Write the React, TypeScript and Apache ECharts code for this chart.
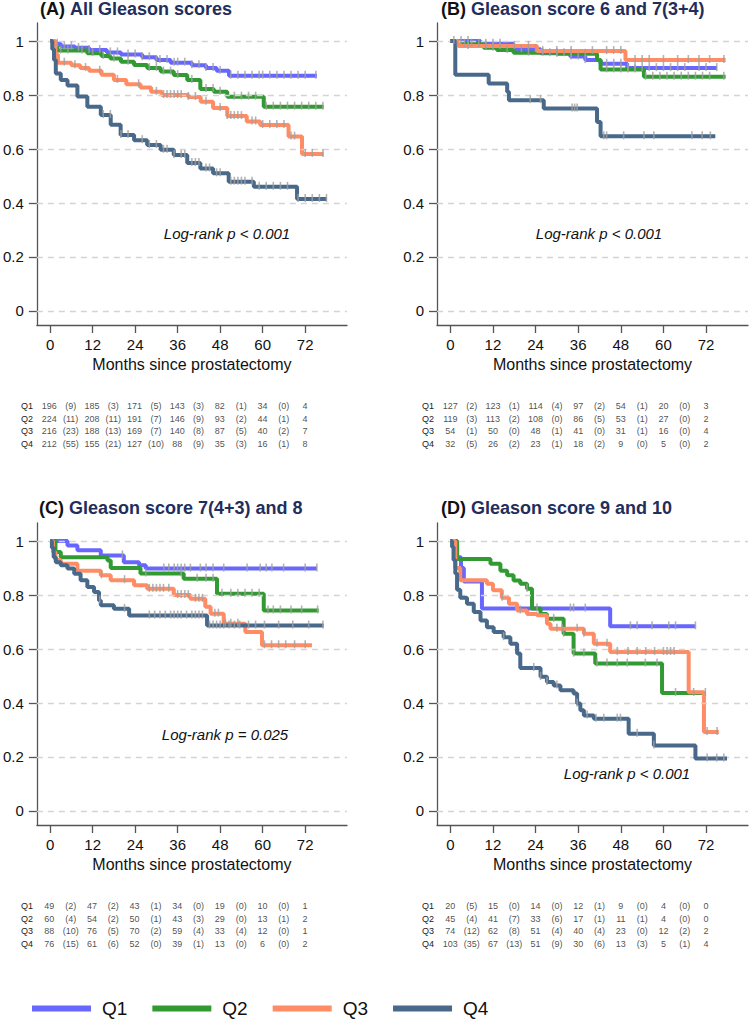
import React, { useEffect, useRef } from "react";
import * as echarts from "echarts";

// ---------------- data ----------------
const quartiles = ["Q1", "Q2", "Q3", "Q4"];
const colors = ["#6767ff", "#329a32", "#ff8c64", "#48698a"];
const panelTitles = [
  ["(A)", "All Gleason scores"],
  ["(B)", "Gleason score 6 and 7(3+4)"],
  ["(C)", "Gleason score 7(4+3) and 8"],
  ["(D)", "Gleason score 9 and 10"],
];
const logRankTexts = ["Log-rank p < 0.001", "Log-rank p < 0.001", "Log-rank p = 0.025", "Log-rank p < 0.001"];
const xTicks = [0, 12, 24, 36, 48, 60, 72];
const yTicks = [0, 0.2, 0.4, 0.6, 0.8, 1];
const eventTimes = [6, 18, 30, 42, 54, 66];
const xAxisTitle = "Months since prostatectomy";

// Kaplan-Meier step curves [month, survival]
const curveA_Q1 = [[0, 1], [1, 0.99], [3, 0.98], [7, 0.975], [11, 0.967], [16, 0.958], [20, 0.95], [26, 0.94], [30, 0.93], [34, 0.92], [40, 0.91], [44, 0.9], [47, 0.89], [50.5, 0.872], [75.3, 0.872]];
const curveA_Q2 = [[0, 1], [1, 0.98], [2, 0.965], [10.5, 0.955], [14.5, 0.945], [17, 0.935], [20, 0.923], [23.7, 0.911], [27.4, 0.9], [31.2, 0.887], [34.9, 0.874], [38.7, 0.856], [42.4, 0.822], [46.2, 0.812], [50, 0.794], [60.3, 0.757], [77.2, 0.757]];
const curveA_Q3 = [[0, 1], [1.5, 0.95], [2.2, 0.92], [6, 0.91], [8.5, 0.9], [11, 0.89], [14.5, 0.875], [18, 0.856], [21.5, 0.84], [25.5, 0.828], [28.5, 0.812], [31.5, 0.8], [39, 0.793], [42.5, 0.775], [46, 0.752], [50, 0.722], [55.5, 0.702], [59.3, 0.689], [67.3, 0.646], [71.1, 0.582], [77.2, 0.582]];
const curveA_Q4 = [[0, 1], [0.6, 0.97], [1.1, 0.93], [1.6, 0.88], [3, 0.856], [4.9, 0.835], [7.7, 0.795], [10.5, 0.757], [14.3, 0.726], [17.1, 0.69], [19.9, 0.652], [23.7, 0.633], [27.4, 0.615], [31.2, 0.597], [34.9, 0.578], [38.7, 0.548], [42.4, 0.528], [46, 0.51], [50.4, 0.479], [57.5, 0.46], [69.7, 0.415], [78.1, 0.415]];

const curveB_Q1 = [[0, 1], [8.5, 0.99], [17.8, 0.97], [25.4, 0.955], [33.8, 0.943], [38, 0.93], [42.3, 0.916], [49.8, 0.9], [75.1, 0.9]];
const curveB_Q2 = [[0, 1], [1.9, 0.99], [9.4, 0.975], [13.1, 0.967], [17.8, 0.957], [30, 0.953], [41.3, 0.93], [42.3, 0.895], [54.5, 0.868], [77.5, 0.868]];
const curveB_Q3 = [[0, 1], [2.3, 0.982], [24.4, 0.963], [49.3, 0.93], [77.5, 0.93]];
const curveB_Q4 = [[0, 1], [1.4, 0.875], [10.8, 0.843], [16, 0.812], [16.5, 0.781], [26.3, 0.75], [41.3, 0.7], [42.3, 0.647], [74.6, 0.647]];

const curveC_Q1 = [[0, 1], [4.9, 0.984], [7.7, 0.966], [14.3, 0.947], [20.8, 0.922], [25.1, 0.91], [27, 0.898], [75.3, 0.898]];
const curveC_Q2 = [[0, 1], [1.5, 0.96], [3, 0.94], [16.2, 0.928], [17.1, 0.9], [25.5, 0.88], [37.7, 0.86], [47.1, 0.805], [60.3, 0.743], [75.8, 0.743]];
const curveC_Q3 = [[0, 1], [0.8, 0.96], [1.5, 0.93], [3, 0.916], [7.7, 0.89], [14.3, 0.873], [17.1, 0.855], [23.7, 0.836], [27.4, 0.823], [34.9, 0.8], [39.6, 0.786], [43.8, 0.757], [45.3, 0.731], [49, 0.694], [55.1, 0.663], [59.8, 0.614], [73.9, 0.614]];
const curveC_Q4 = [[0, 1], [0.5, 0.975], [1, 0.94], [1.6, 0.922], [3, 0.91], [4.9, 0.898], [6.8, 0.879], [8.6, 0.855], [10.5, 0.83], [12.4, 0.811], [13.8, 0.78], [14.3, 0.762], [18, 0.749], [22.3, 0.724], [44.3, 0.687], [77.2, 0.687]];

const curveD_Q1 = [[0, 1], [1.9, 0.94], [3, 0.9], [3.8, 0.85], [8.9, 0.75], [45, 0.684], [69, 0.684]];
const curveD_Q2 = [[0, 1], [1.9, 0.934], [11.3, 0.916], [14.1, 0.89], [16, 0.873], [17.8, 0.854], [19.7, 0.842], [21.6, 0.823], [23, 0.75], [25.4, 0.73], [27.2, 0.712], [31.9, 0.657], [34.7, 0.583], [40.8, 0.546], [59.6, 0.437], [71.8, 0.437]];
const curveD_Q3 = [[0, 1], [1.4, 0.9], [2.8, 0.855], [10.3, 0.842], [12, 0.818], [14.5, 0.79], [16.5, 0.768], [18.8, 0.743], [21.6, 0.73], [24.4, 0.725], [27.2, 0.694], [28.2, 0.675], [37.6, 0.657], [40.4, 0.62], [45, 0.589], [67.1, 0.44], [71.4, 0.293], [75.6, 0.293]];
const curveD_Q4 = [[0, 1], [0.5, 0.978], [0.9, 0.93], [1.4, 0.88], [1.9, 0.82], [2.8, 0.79], [4.7, 0.768], [6.6, 0.737], [8.5, 0.706], [10.3, 0.681], [12.2, 0.663], [15, 0.644], [16.9, 0.62], [18.8, 0.583], [19.7, 0.53], [25.4, 0.497], [27.2, 0.478], [29.1, 0.465], [31, 0.447], [34.7, 0.435], [35.7, 0.398], [36.6, 0.373], [37.6, 0.354], [40.4, 0.342], [50.2, 0.286], [57.3, 0.243], [69, 0.194], [77.9, 0.194]];

// censoring times (months)
const censA_Q1 = [2, 4, 6, 8, 11, 14, 17, 19, 22, 24, 26, 28, 30, 31, 33, 35, 36, 38, 40, 42, 44, 46, 48, 51, 53, 55, 57, 59, 60, 62, 64, 66, 68, 70, 72, 75];
const censA_Q2 = [3, 5, 9, 12, 15, 18, 22, 28, 30, 32, 34, 36, 40, 44, 46, 48, 52, 54, 56, 58, 61, 63, 65, 67, 69, 71, 73, 75, 77];
const censA_Q3 = [4, 7, 10, 14, 19, 25, 30, 32, 33, 34, 35, 36, 37, 39, 41, 44, 48, 50, 51, 52, 53, 54, 57, 58, 60, 62, 64, 66, 68, 69, 72, 74, 77];
const censA_Q4 = [15, 17, 20, 22, 26, 28, 30, 32, 33, 35, 37, 38, 40, 41, 42, 44, 45, 47, 48, 51, 52, 53, 54, 55, 57, 59, 61, 63, 65, 67, 70, 72, 74, 76, 78];
const censB_Q1 = [1, 3, 5, 10, 12, 14, 20, 24, 28, 30, 32, 34, 36, 38, 44, 46, 48, 50, 52, 54, 56, 58, 60, 62, 64, 66, 70, 72, 75];
const censB_Q2 = [2, 4, 6, 8, 12, 16, 22, 26, 30, 34, 38, 44, 46, 48, 50, 52, 55, 57, 59, 61, 63, 65, 67, 69, 71, 73, 77];
const censB_Q3 = [5, 10, 14, 18, 22, 26, 30, 34, 40, 44, 46, 48, 52, 54, 56, 60, 64, 67, 70, 73, 77];
const censB_Q4 = [22.5, 25.4, 34.3, 35, 35.7, 43.2, 44, 48.8, 54.5, 57.3, 68, 70.9, 73.2];
const censC_Q1 = [20.4, 32.1, 33.5, 35, 36, 37, 38, 39.6, 42.4, 44, 46, 49, 55.6, 59.3, 61, 62.6, 65.9, 72, 75.3];
const censC_Q2 = [27, 37, 41.5, 44, 46, 48.5, 51, 53, 55, 57, 59, 61.5, 63, 65, 68, 71, 75.5];
const censC_Q3 = [14.5, 21, 28, 29, 30, 31, 32, 33.5, 36, 37, 38, 39, 41, 42, 43, 46.5, 47.5, 49.5, 51, 53, 60.5, 62.5, 64.5, 66.5, 69, 72];
const censC_Q4 = [14, 21, 28, 29.5, 31, 32.5, 34, 35, 36, 37, 38.5, 40, 41, 42, 43, 45, 46, 47, 48, 49, 50.5, 52, 53.5, 56, 58, 60.5, 64.5, 68.5, 73, 77];
const censD_Q1 = [33.8, 34.7, 38, 50.7, 52.6, 56.8, 61.5, 63.4, 69];
const censD_Q2 = [21.6, 24.4, 29.1, 31.9, 34.7, 37.6, 41.3, 44.1, 47, 49.8, 54.9, 58.2, 63.4, 68.5, 71.8];
const censD_Q3 = [14.6, 19.7, 30, 31.5, 35.7, 37.6, 41.3, 44.1, 47, 50, 52.6, 55, 57.5, 60, 61, 62, 63, 72.3, 75.1];
const censD_Q4 = [15, 23.5, 25.4, 27.2, 30, 35.7, 38.5, 41, 43.2, 47, 47.9, 52.6, 57.3, 72.3, 75, 77];

// numbers at risk (at 0,12,...,72) and events (in parentheses)
const riskA = [[196, 185, 171, 143, 82, 34, 4], [224, 208, 191, 146, 93, 44, 4], [216, 188, 169, 140, 87, 40, 7], [212, 155, 127, 88, 35, 16, 8]];
const eventsA = [[9, 3, 5, 3, 1, 0], [11, 11, 7, 9, 2, 1], [23, 13, 7, 8, 5, 2], [55, 21, 10, 9, 3, 1]];
const riskB = [[127, 123, 114, 97, 54, 20, 3], [119, 113, 108, 86, 53, 27, 2], [54, 50, 48, 41, 31, 16, 4], [32, 26, 23, 18, 9, 5, 2]];
const eventsB = [[2, 1, 4, 2, 1, 0], [3, 2, 0, 5, 1, 0], [1, 0, 1, 0, 1, 0], [5, 2, 1, 2, 0, 0]];
const riskC = [[49, 47, 43, 34, 19, 10, 1], [60, 54, 50, 43, 29, 13, 2], [88, 76, 70, 59, 33, 12, 1], [76, 61, 52, 39, 13, 6, 2]];
const eventsC = [[2, 2, 1, 0, 0, 0], [4, 2, 1, 3, 0, 1], [10, 5, 2, 4, 4, 0], [15, 6, 0, 1, 0, 0]];
const riskD = [[20, 15, 14, 12, 9, 4, 0], [45, 41, 33, 17, 11, 4, 0], [74, 62, 51, 40, 23, 12, 2], [103, 67, 51, 30, 13, 5, 4]];
const eventsD = [[5, 0, 0, 1, 0, 0], [4, 7, 6, 1, 1, 0], [12, 8, 4, 4, 0, 2], [35, 13, 9, 6, 3, 1]];

// ---------------- assembly ----------------
const panelCurves = [
  [curveA_Q1, curveA_Q2, curveA_Q3, curveA_Q4],
  [curveB_Q1, curveB_Q2, curveB_Q3, curveB_Q4],
  [curveC_Q1, curveC_Q2, curveC_Q3, curveC_Q4],
  [curveD_Q1, curveD_Q2, curveD_Q3, curveD_Q4],
];
const panelCensors = [
  [censA_Q1, censA_Q2, censA_Q3, censA_Q4],
  [censB_Q1, censB_Q2, censB_Q3, censB_Q4],
  [censC_Q1, censC_Q2, censC_Q3, censC_Q4],
  [censD_Q1, censD_Q2, censD_Q3, censD_Q4],
];
const panelRisk = [riskA, riskB, riskC, riskD];
const panelEvents = [eventsA, eventsB, eventsC, eventsD];

const FONT = '"Liberation Sans", Arial, Helvetica, sans-serif';

function survAt(curve: number[][], t: number) {
  let v = curve[0][1];
  for (const p of curve) {
    if (p[0] <= t) v = p[1];
    else break;
  }
  return v;
}

function buildOption() {
  const PL = [36, 437, 36, 437];
  const PT = [23, 23, 523, 523];
  const TT = [400, 400, 900, 900];
  const W = 311, H = 302;
  const XMIN = -3.75, XMAX = 83.8, YMIN = -0.052, YMAX = 1.067;
  const axisColor = "#555";
  const grid: any[] = [], xAxis: any[] = [], yAxis: any[] = [], series: any[] = [], title: any[] = [], graphic: any[] = [];
  const logPos = [[227, 233], [599, 233], [225, 734], [627, 773]];
  const titleTop = [0, 0, 499, 499];
  const titleLeft = [40, 441, 39, 441];

  for (let p = 0; p < 4; p++) {
    const gi = 2 * p;
    grid.push({ left: PL[p], top: PT[p], width: W, height: H });
    xAxis.push({
      type: "value", gridIndex: gi, min: XMIN, max: XMAX,
      axisLine: { show: true, onZero: false, lineStyle: { color: axisColor, width: 1.3 } },
      axisTick: { show: true, length: 8, customValues: xTicks, lineStyle: { color: axisColor, width: 1.3 } },
      axisLabel: { customValues: xTicks, fontSize: 15, color: "#111", margin: 12, fontFamily: FONT },
      splitLine: { show: false },
      name: xAxisTitle, nameLocation: "middle", nameGap: 31,
      nameTextStyle: { fontSize: 16, color: "#111", fontFamily: FONT },
    });
    yAxis.push({
      type: "value", gridIndex: gi, min: YMIN, max: YMAX,
      axisLine: { show: true, onZero: false, lineStyle: { color: axisColor, width: 1.3 } },
      axisTick: { show: true, length: 8, customValues: yTicks, lineStyle: { color: axisColor, width: 1.3 } },
      axisLabel: { customValues: yTicks, fontSize: 15, color: "#111", margin: 13, fontFamily: FONT, formatter: (v: number) => String(Math.round(v * 10) / 10) },
      splitLine: { show: false },
    });
    // table grid
    grid.push({ left: PL[p], top: TT[p], width: W, height: 50 });
    xAxis.push({ type: "value", gridIndex: gi + 1, min: XMIN, max: XMAX, show: false });
    yAxis.push({
      type: "category", gridIndex: gi + 1, data: quartiles, inverse: true,
      axisLine: { show: false }, axisTick: { show: false }, splitLine: { show: false },
      axisLabel: { fontSize: 9, color: "#222", margin: 3, fontFamily: FONT },
    });

    // gridlines
    series.push({
      type: "line", name: "grid" + p, xAxisIndex: gi, yAxisIndex: gi, data: [], z: 0, silent: true,
      markLine: {
        silent: true, symbol: ["none", "none"], label: { show: false },
        lineStyle: { type: [6, 5], color: "#d4d4d4", width: 1.3 },
        data: yTicks.map((v) => ({ yAxis: v })),
      },
    });

    for (let q = 0; q < 4; q++) {
      const curve = panelCurves[p][q];
      series.push({
        type: "line", name: quartiles[q], xAxisIndex: gi, yAxisIndex: gi,
        data: curve, step: "end", symbol: "none", showSymbol: false, silent: true,
        lineStyle: { width: 4, color: colors[q] }, itemStyle: { color: colors[q] }, z: 2 + q,
      });
      series.push({
        type: "scatter", name: "cens" + p + q, xAxisIndex: gi, yAxisIndex: gi, silent: true,
        data: panelCensors[p][q].map((t) => [t, survAt(curve, t)]),
        symbol: "rect", symbolSize: [1.6, 8], symbolOffset: [0, -1],
        itemStyle: { color: "#a0a0a0" }, z: 8,
      });
      const tbl: any[] = [];
      xTicks.forEach((t, i) => tbl.push([t, q, String(panelRisk[p][q][i])]));
      eventTimes.forEach((t, i) => tbl.push([t, q, "(" + panelEvents[p][q][i] + ")"]));
      series.push({
        type: "scatter", name: "tbl" + p + q, xAxisIndex: gi + 1, yAxisIndex: gi + 1, silent: true,
        data: tbl, symbolSize: 1, itemStyle: { color: "rgba(0,0,0,0)" },
        label: { show: true, position: "inside", formatter: (d: any) => d.data[2], fontSize: 9, color: "#222", fontFamily: FONT },
      });
    }

    title.push({
      left: titleLeft[p], top: titleTop[p], padding: 0,
      text: "{a|" + panelTitles[p][0] + "} {b|" + panelTitles[p][1] + "}",
      textStyle: {
        rich: {
          a: { fontSize: 18, fontWeight: "bold", color: "#111", fontFamily: FONT },
          b: { fontSize: 18, fontWeight: "bold", color: "#1f2e5c", fontFamily: FONT },
        },
      },
    });
    graphic.push({
      type: "text", x: logPos[p][0], y: logPos[p][1], silent: true,
      style: { text: logRankTexts[p], font: "italic 15px " + FONT, fill: "#111", align: "center", verticalAlign: "middle" },
    });
  }

  return {
    animation: false,
    backgroundColor: "#fff",
    title, grid, xAxis, yAxis, series, graphic,
    legend: {
      data: quartiles, left: 32, top: 999, padding: 0, icon: "rect", itemWidth: 59, itemHeight: 6, itemGap: 25,
      selectedMode: false,
      textStyle: { fontSize: 19, color: "#111", fontFamily: FONT, padding: [0, 0, 0, 6] },
    },
  };
}

export default function App() {
  const ref = useRef<HTMLDivElement>(null);
  useEffect(() => {
    if (!ref.current) return;
    const chart = echarts.init(ref.current, null, { renderer: "svg" });
    chart.setOption(buildOption() as any);
    return () => chart.dispose();
  }, []);
  return <div ref={ref} style={{ position: "absolute", left: 0, top: 0, width: 749, height: 1022 }} />;
}
